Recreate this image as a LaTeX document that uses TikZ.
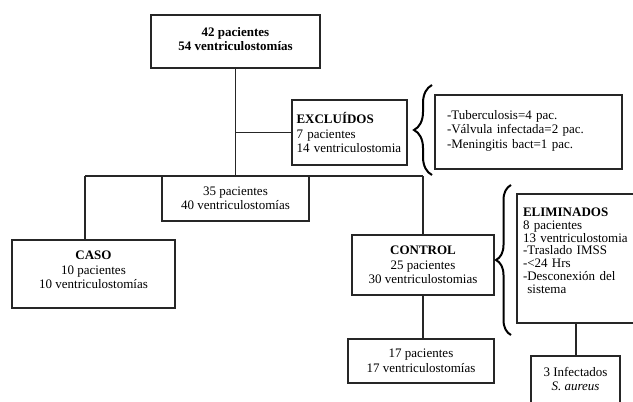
\documentclass[tikz,border=0pt]{standalone}
\usepackage{fontspec}
\setmainfont{Liberation Serif}
\usepackage{tikz}
\usetikzlibrary{decorations.pathreplacing}
\tikzstyle{caja}=[draw=black!85,line width=1.1pt,rectangle,align=center,inner sep=0,font=\fontsize{13}{14.5}\selectfont]
\tikzstyle{cajaizq}=[caja,align=left,inner xsep=6pt]
\tikzstyle{linea}=[draw=black!85,line width=1.1pt]
\tikzstyle{llave}=[draw=black,line width=2pt,decoration={brace,amplitude=15pt},decorate]

\begin{document}
\begin{tikzpicture}[x=1pt,y=-1pt]
	\clip (0,0) rectangle (633,402);
	\fill[white] (0,0) rectangle (633,402);

	\node[caja, minimum width=169, minimum height=53] (TOTAL) at (235.5,41.5) 
	{\bfseries 42 pacientes\\ \bfseries 54 ventriculostomías\rule[-5pt]{0pt}{0pt}};

	\node[cajaizq, inner xsep=4.5pt, text width=106, minimum height=65] (EXCL) at (349.5,132.5) 
	{\textbf{EXCLUÍDOS}\\ 7 pacientes\\ 14 ventriculostomia};
	\node[cajaizq, inner xsep=12pt, text width=163, minimum height=74] (LISTA) at (528.5,132) 
	{-Tuberculosis=4 pac.\\ -Válvula infectada=2 pac.\\ -Meningitis bact=1 pac.\rule[-6pt]{0pt}{0pt}};

	\node[caja, minimum width=147, minimum height=45] (N35) at (235.5,198.5) 
	{35 pacientes\\ 40 ventriculostomías};

% % % CASO / CONTROL
	\node[caja, minimum width=163, minimum height=68] (CASO) at (93.5,274) 
	{\textbf{CASO}\\ 10 pacientes\\ 10 ventriculostomías\rule[-8pt]{0pt}{0pt}};
	\node[caja, minimum width=142, minimum height=60] (CONTROL) at (423,265) 
	{\textbf{CONTROL}\\ 25 pacientes\\ 30 ventriculostomias};
	\node[caja, minimum width=146, minimum height=44] (N17) at (421,361) 
	{17 pacientes\\ 17 ventriculostomías};

% % % ELIMINADOS
	\node[cajaizq, font=\fontsize{13}{12.8}\selectfont, text width=106, minimum height=129] (ELIM) at (576,258.5) 
	{\textbf{ELIMINADOS}\\ 8 pacientes\\ 13 ventriculostomia\\ -Traslado IMSS\\ -<24 Hrs\\ -Desconexión del\\ \ sistema\rule[-16pt]{0pt}{0pt}};
	\node[caja, minimum width=89, minimum height=64] (INF) at (575.5,388) 
	{3 Infectados\\ \textit{S. aureus}\rule[-18pt]{0pt}{0pt}};

	\coordinate (izq) at (85,176);
	\coordinate (der) at (423,176);

	\path[linea] (TOTAL.south) -- (N35.north);
	\path[linea] (TOTAL.south |- EXCL.west) -- (EXCL.west);
	\path[linea] (izq) -- (der);
	\path[linea] (izq) -- (izq |- CASO.north);
	\path[linea] (der) -- (CONTROL.north);
	\path[linea] (CONTROL.south) -- (CONTROL.south |- N17.north);
	\path[linea] (ELIM.south) -- (ELIM.south |- INF.north);

	\path[llave, decoration={amplitude=18pt}] (432,175) -- (432,85);
	\path[llave] (511,335) -- (511,185);
\end{tikzpicture}
\end{document}
